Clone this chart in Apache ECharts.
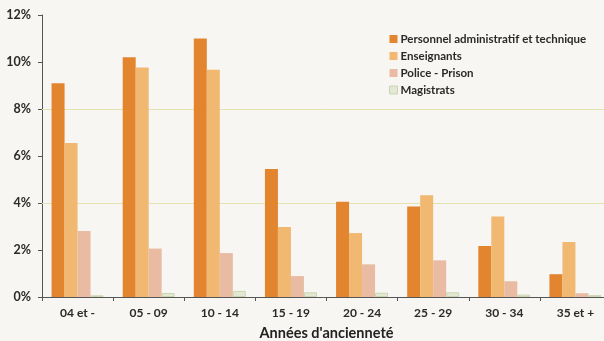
<!DOCTYPE html>
<html>
<head>
<meta charset="utf-8">
<script src="https://cdn.jsdelivr.net/npm/echarts@6/dist/echarts.min.js"></script>
<style>
html,body{margin:0;padding:0;background:#f7f6f2;}
#c{width:604px;height:341px;}
</style>
</head>
<body>
<div id="c"></div>
<script>
var categories = ['04 et -', '05 - 09', '10 - 14', '15 - 19', '20 - 24', '25 - 29', '30 - 34', '35 et +'];
var seriesNames = ['Personnel administratif et technique', 'Enseignants', 'Police - Prison', 'Magistrats'];
var personnel = [9.1, 10.2, 11.0, 5.45, 4.05, 3.85, 2.17, 0.97];
var enseignants = [6.55, 9.77, 9.67, 2.98, 2.72, 4.33, 3.43, 2.34];
var police = [2.81, 2.06, 1.87, 0.89, 1.39, 1.56, 0.67, 0.16];
var magistrats = [0.07, 0.17, 0.26, 0.2, 0.18, 0.2, 0.1, 0.08];
var guideLines = [4, 8];

var colors = ['#e3842f', '#f1b872', '#e9bba3', '#e2e8d2'];
var font = 'Lato';

var chart = echarts.init(document.getElementById('c'));
var dataSets = [personnel, enseignants, police, magistrats];
var series = dataSets.map(function (d, i) {
  var s = {
    name: seriesNames[i],
    type: 'bar',
    data: d,
    barWidth: 13,
    barGap: '0%',
    z: 3,
    itemStyle: { color: colors[i] },
    emphasis: { disabled: true }
  };
  if (i === 3) {
    s.itemStyle.borderColor = '#c9d5b3';
    s.itemStyle.borderWidth = 1;
  }
  return s;
});
series.push({
  name: 'guides',
  type: 'line',
  data: [],
  z: 1,
  silent: true,
  markLine: {
    silent: true,
    symbol: 'none',
    z: 1,
    label: { show: false },
    lineStyle: { color: '#e3e2b0', type: 'solid', width: 1 },
    data: guideLines.map(function (v) { return { yAxis: v }; })
  }
});

chart.setOption({
  backgroundColor: '#f7f6f2',
  animation: false,
  textStyle: { fontFamily: font },
  grid: { left: 42, right: -7, top: 15, bottom: 44, containLabel: false, outerBoundsMode: 'none' },
  legend: {
    orient: 'vertical',
    left: 384,
    top: 27,
    icon: 'rect',
    itemWidth: 8,
    itemHeight: 8,
    itemGap: 3,
    textStyle: { fontFamily: font, fontSize: 11.5, fontWeight: 'bold', color: '#2a2a2a', lineHeight: 14, padding: [0, 0, 0, -2] },
    data: seriesNames.map(function (n, i) {
      return i === 3 ? { name: n, itemStyle: { borderColor: '#c9d5b3', borderWidth: 1 } } : { name: n };
    })
  },
  xAxis: {
    type: 'category',
    data: categories,
    name: "Années d'ancienneté",
    nameLocation: 'middle',
    nameGap: 29,
    nameTextStyle: { fontFamily: font, fontSize: 14.5, fontWeight: 'bold', color: '#222' },
    axisLine: { lineStyle: { color: '#555', width: 1 } },
    axisTick: { show: true, length: 4, lineStyle: { color: '#555' } },
    axisLabel: { fontFamily: font, fontSize: 12, fontWeight: 'bold', color: '#2a2a2a', margin: 10 }
  },
  yAxis: {
    type: 'value',
    min: 0,
    max: 12,
    interval: 2,
    axisLine: { show: true, lineStyle: { color: '#555', width: 1 } },
    axisTick: { show: true, length: 4, lineStyle: { color: '#555' } },
    splitLine: { show: false },
    axisLabel: { fontFamily: font, fontSize: 12.5, fontWeight: 'bold', color: '#2a2a2a', margin: 11, formatter: '{value}%' }
  },
  series: series
});
</script>
</body>
</html>
